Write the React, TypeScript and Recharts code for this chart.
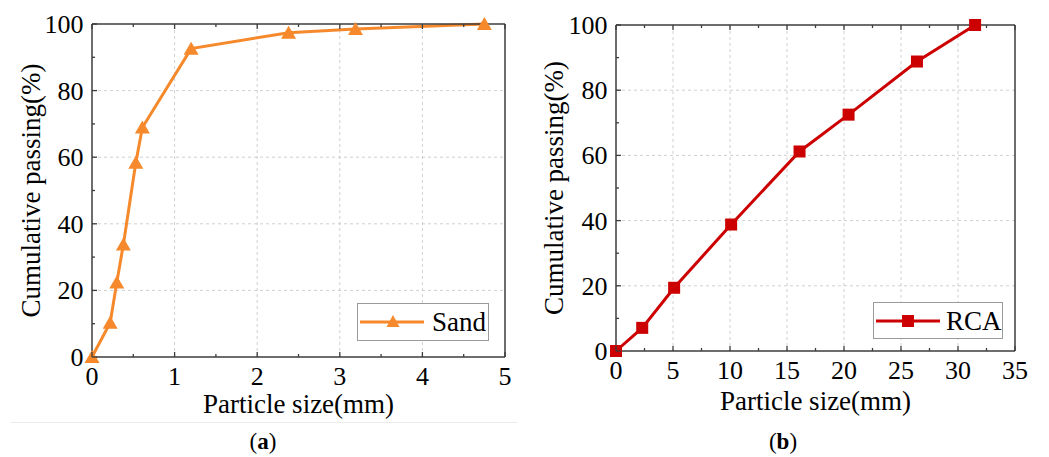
import React from 'react';
import { LineChart, Line, XAxis, YAxis, CartesianGrid, Legend } from 'recharts';

// sieve data
const sandSize = [0, 0.22, 0.3, 0.38, 0.53, 0.61, 1.2, 2.38, 3.19, 4.75];
const sandPassing = [0, 10.3, 22.4, 33.8, 58.3, 68.9, 92.6, 97.4, 98.5, 100];

const rcaSize = [0, 2.3, 5.1, 10.1, 16.1, 20.4, 26.4, 31.5];
const rcaPassing = [0, 7.1, 19.4, 38.8, 61.2, 72.5, 88.8, 100];

// axis ticks
const sandMajor = [0, 1, 2, 3, 4, 5];
const sandMinor = [0.5, 1.5, 2.5, 3.5, 4.5];
const rcaMajor = [0, 5, 10, 15, 20, 25, 30, 35];
const rcaMinor = [2.5, 7.5, 12.5, 17.5, 22.5, 27.5, 32.5];
const passingMajor = [0, 20, 40, 60, 80, 100];
const passingMinor = [10, 30, 50, 70, 90];

const FONT = '"Liberation Serif", "Times New Roman", Tinos';
const ORANGE = '#F5892B';
const RED = '#CC0000';
const AXIS = '#3c3c3c';
const INK = '#000';

const allTicks = (major: number[], minor: number[]) => [...major, ...minor].sort((a, b) => a - b);
const inner = (major: number[]) => major.slice(1, -1);

const sandData = sandSize.map((s, i) => ({ size: s, passing: sandPassing[i] }));
const rcaData = rcaSize.map((s, i) => ({ size: s, passing: rcaPassing[i] }));

// ticks point inward; tickSize/tickMargin are 0 so x/y is the axis position
type Side = 'bottom' | 'top' | 'left' | 'right';
const makeTick = (side: Side, majors: number[], labels: boolean) => (props: any) => {
    const { x, y, payload, index } = props;
    const v = payload.value;
    const major = majors.includes(v);
    const len = major ? 5 : 3;
    let line;
    if (side === 'bottom') line = <line x1={x} y1={y} x2={x} y2={y - len} />;
    else if (side === 'top') line = <line x1={x} y1={y} x2={x} y2={y + len} />;
    else if (side === 'left') line = <line x1={x} y1={y} x2={x + len} y2={y} />;
    else line = <line x1={x} y1={y} x2={x - len} y2={y} />;
    return (
        <g key={index}>
            <g stroke={AXIS} strokeWidth={1.3}>{line}</g>
            {labels && major && side === 'bottom' && (
                <text x={x} y={y + 28} textAnchor="middle" style={{ fontFamily: FONT, fontSize: 26 }} fill={INK}>{v}</text>
            )}
            {labels && major && side === 'left' && (
                <text x={x - 8.5} y={y + 9} textAnchor="end" style={{ fontFamily: FONT, fontSize: 26 }} fill={INK}>{v}</text>
            )}
        </g>
    );
};

const Triangle = (props: any) => {
    const { cx, cy, fill, index } = props;
    if (cx == null || cy == null) return <g key={index} />;
    return <path key={index} d={`M${cx},${cy - 7} L${cx + 7.5},${cy + 6} L${cx - 7.5},${cy + 6} Z`} fill={fill} />;
};

const Square = (props: any) => {
    const { cx, cy, fill, index } = props;
    if (cx == null || cy == null) return <g key={index} />;
    return <rect key={index} x={cx - 6} y={cy - 6} width={12} height={12} fill={fill} />;
};

const LegendBox = ({ name, color, shape, width, height, textX }: any) => (
    <div style={{ position: 'relative', width, height, boxSizing: 'border-box', border: '1px solid #9a9a9a', background: '#fff' }}>
        <svg width={70} height={height} style={{ position: 'absolute', left: 0, top: -1 }}>
            <line x1={2} y1={19} x2={66} y2={19} stroke={color} strokeWidth={3} />
            {shape === 'triangle' ? (
                <path d="M35,12 L41.5,24 L28.5,24 Z" fill={color} />
            ) : (
                <rect x={28} y={13} width={12} height={12} fill={color} />
            )}
        </svg>
        <span style={{ position: 'absolute', left: textX, top: 1, fontFamily: FONT, fontSize: 27, lineHeight: '34px', color: INK }}>{name}</span>
    </div>
);

const axisLine = { stroke: AXIS, strokeWidth: 1.5 };
const titleStyle = { fontFamily: FONT, fontSize: 27, fill: INK };

export default function App() {
    return (
        <div style={{ position: 'absolute', left: 0, top: 0, width: 1049, height: 457, background: '#fff', overflow: 'hidden', fontFamily: FONT }}>
            <div style={{ position: 'absolute', left: 0, top: 0 }}>
                <LineChart width={520} height={457} data={sandData} margin={{ top: 23, right: 14, bottom: 0, left: 0 }}>
                    <CartesianGrid xAxisId="b" yAxisId="l" horizontalValues={inner(passingMajor)} verticalValues={inner(sandMajor)} stroke="#c4c4c4" strokeDasharray="3 3" strokeWidth={0.8} />
                    <XAxis xAxisId="b" type="number" dataKey="size" domain={[0, 5]} ticks={allTicks(sandMajor, sandMinor)} interval={0} tickSize={0} tickMargin={0} tickLine={false} tick={makeTick('bottom', sandMajor, true)} height={100} axisLine={axisLine}
                        label={{ value: 'Particle size(mm)', position: 'insideTop', offset: 37, style: titleStyle }} />
                    <XAxis xAxisId="t" orientation="top" type="number" dataKey="size" domain={[0, 5]} ticks={allTicks(sandMajor, sandMinor)} interval={0} tickSize={0} tickMargin={0} tickLine={false} tick={makeTick('top', sandMajor, false)} height={1} axisLine={axisLine} />
                    <YAxis yAxisId="l" type="number" domain={[0, 100]} ticks={allTicks(passingMajor, passingMinor)} interval={0} tickSize={0} tickMargin={0} tickLine={false} tick={makeTick('left', passingMajor, true)} width={92} axisLine={axisLine}
                        label={{ value: 'Cumulative passing(%)', angle: -90, position: 'insideLeft', offset: 30, style: { ...titleStyle, textAnchor: 'middle' } }} />
                    <YAxis yAxisId="r" orientation="right" type="number" domain={[0, 100]} ticks={allTicks(passingMajor, passingMinor)} interval={0} tickSize={0} tickMargin={0} tickLine={false} tick={makeTick('right', passingMajor, false)} width={1} axisLine={axisLine} />
                    <Line xAxisId="b" yAxisId="l" type="linear" dataKey="passing" name="Sand" stroke={ORANGE} strokeWidth={3} fill={ORANGE}
                        dot={(p: any) => <Triangle {...p} fill={ORANGE} />} activeDot={false} isAnimationActive={false} />
                    <Legend layout="horizontal" verticalAlign="middle" align="center" wrapperStyle={{ left: 357, top: 303, width: 132, height: 38 }}
                        content={() => <LegendBox name="Sand" color={ORANGE} shape="triangle" width={132} height={38} textX={74} />} />
                </LineChart>
            </div>

            <div style={{ position: 'absolute', left: 520, top: 0 }}>
                <LineChart width={529} height={457} data={rcaData} margin={{ top: 24, right: 33, bottom: 0, left: 0 }}>
                    <CartesianGrid xAxisId="b" yAxisId="l" horizontalValues={inner(passingMajor)} verticalValues={inner(rcaMajor)} stroke="#c4c4c4" strokeDasharray="3 3" strokeWidth={0.8} />
                    <XAxis xAxisId="b" type="number" dataKey="size" domain={[0, 35]} ticks={allTicks(rcaMajor, rcaMinor)} interval={0} tickSize={0} tickMargin={0} tickLine={false} tick={makeTick('bottom', rcaMajor, true)} height={106} axisLine={axisLine}
                        label={{ value: 'Particle size(mm)', position: 'insideTop', offset: 40, style: titleStyle }} />
                    <XAxis xAxisId="t" orientation="top" type="number" dataKey="size" domain={[0, 35]} ticks={allTicks(rcaMajor, rcaMinor)} interval={0} tickSize={0} tickMargin={0} tickLine={false} tick={makeTick('top', rcaMajor, false)} height={1} axisLine={axisLine} />
                    <YAxis yAxisId="l" type="number" domain={[0, 100]} ticks={allTicks(passingMajor, passingMinor)} interval={0} tickSize={0} tickMargin={0} tickLine={false} tick={makeTick('left', passingMajor, true)} width={96} axisLine={axisLine}
                        label={{ value: 'Cumulative passing(%)', angle: -90, position: 'insideLeft', offset: 33, style: { ...titleStyle, textAnchor: 'middle' } }} />
                    <YAxis yAxisId="r" orientation="right" type="number" domain={[0, 100]} ticks={allTicks(passingMajor, passingMinor)} interval={0} tickSize={0} tickMargin={0} tickLine={false} tick={makeTick('right', passingMajor, false)} width={1} axisLine={axisLine} />
                    <Line xAxisId="b" yAxisId="l" type="linear" dataKey="passing" name="RCA" stroke={RED} strokeWidth={3} fill={RED}
                        dot={(p: any) => <Square {...p} fill={RED} />} activeDot={false} isAnimationActive={false} />
                    <Legend layout="horizontal" verticalAlign="middle" align="center" wrapperStyle={{ left: 353, top: 302, width: 130, height: 37 }}
                        content={() => <LegendBox name="RCA" color={RED} shape="square" width={130} height={37} textX={72} />} />
                </LineChart>
            </div>

            <div style={{ position: 'absolute', left: 11, top: 422, width: 506, height: 1, background: '#ececec' }} />
            <div style={{ position: 'absolute', left: 213, top: 428, width: 100, textAlign: 'center', fontFamily: FONT, fontSize: 23, lineHeight: '28px', color: INK }}>
                (<b>a</b>)
            </div>
            <div style={{ position: 'absolute', left: 733, top: 428, width: 100, textAlign: 'center', fontFamily: FONT, fontSize: 23, lineHeight: '28px', color: INK }}>
                (<b>b</b>)
            </div>
        </div>
    );
}
